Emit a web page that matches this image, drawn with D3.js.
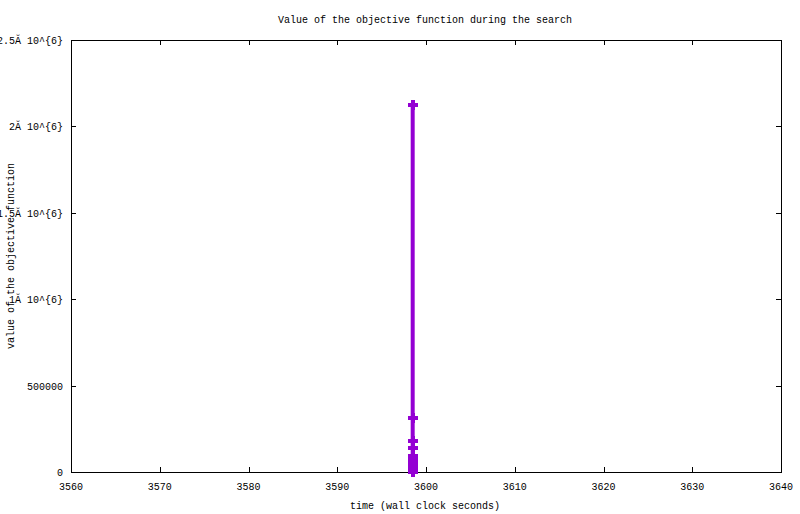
<!DOCTYPE html>
<html>
<head>
<meta charset="utf-8">
<script src="https://cdn.jsdelivr.net/npm/d3@7"></script>
<style>
  html, body { margin: 0; padding: 0; background: #fff; }
  svg { display: block; }
  text { font-family: "Liberation Mono", "DejaVu Sans Mono", monospace; font-size: 10px; fill: #000; }
</style>
</head>
<body>
<svg id="chart" width="800" height="514"></svg>
<script>
// ---- data ----
const times  = [3598.5, 3598.5, 3598.5, 3598.5, 3598.5, 3598.5, 3598.5, 3598.5, 3598.5, 3598.5, 3598.5, 3598.5];
const values = [2124000, 314000, 179000, 141000, 92000, 75000, 60000, 45000, 32000, 20000, 9000, 0];
const xTicks = [3560, 3570, 3580, 3590, 3600, 3610, 3620, 3630, 3640];
const yTicks = [0, 500000, 1000000, 1500000, 2000000, 2500000];
const yTickLabels = ["0", "500000", "1Ă 10^{6}", "1.5Ă 10^{6}", "2Ă 10^{6}", "2.5Ă 10^{6}"];
const titleText = "Value of the objective function during the search";
const xLabel = "time (wall clock seconds)";
const yLabel = "value of the objective function";

const svg = d3.select("#chart");
const L = 71, R = 781, T = 40, B = 472;
const x = d3.scaleLinear().domain([3560, 3640]).range([L, R]);
const y = d3.scaleLinear().domain([0, 2500000]).range([B, T]);
const color = "#9400D3";
const tickLen = 5;

// border
svg.append("rect")
  .attr("x", L + 0.5).attr("y", T + 0.5)
  .attr("width", R - L).attr("height", B - T)
  .attr("fill", "none").attr("stroke", "#000").attr("stroke-width", 1)
  .attr("shape-rendering", "crispEdges");

// ticks (inward, mirrored)
const g = svg.append("g").attr("shape-rendering", "crispEdges").attr("stroke", "#000");
xTicks.forEach(t => {
  const px = Math.round(x(t)) + 0.5;
  g.append("line").attr("x1", px).attr("x2", px).attr("y1", B).attr("y2", B - tickLen);
  g.append("line").attr("x1", px).attr("x2", px).attr("y1", T).attr("y2", T + tickLen);
});
yTicks.forEach(t => {
  const py = Math.round(y(t)) + 0.5;
  g.append("line").attr("x1", L).attr("x2", L + tickLen).attr("y1", py).attr("y2", py);
  g.append("line").attr("x1", R).attr("x2", R - tickLen).attr("y1", py).attr("y2", py);
});

// tick labels
xTicks.forEach(t => {
  svg.append("text").attr("x", x(t)).attr("y", B + 18)
    .attr("text-anchor", "middle").text(t);
});
yTicks.forEach((t, i) => {
  svg.append("text").attr("x", L - 8).attr("y", y(t) + 4)
    .attr("text-anchor", "end").text(yTickLabels[i]);
});

// titles
svg.append("text").attr("x", 425).attr("y", 23).attr("text-anchor", "middle").text(titleText);
svg.append("text").attr("x", 425).attr("y", 509).attr("text-anchor", "middle").text(xLabel);
svg.append("text").attr("transform", "translate(14,256) rotate(-90)")
  .attr("text-anchor", "middle").text(yLabel);

// data line
const pts = times.map((t, i) => [t, values[i]]);
svg.append("path")
  .attr("d", d3.line().x(d => x(d[0])).y(d => y(d[1]))(pts))
  .attr("fill", "none").attr("stroke", color).attr("stroke-width", 4);

// plus markers
const arm = 5, th = 4;
const mg = svg.append("g").attr("fill", color).attr("shape-rendering", "crispEdges");
pts.forEach(d => {
  const cx = x(d[0]), cy = y(d[1]);
  mg.append("rect").attr("x", cx - arm).attr("y", cy - th / 2).attr("width", 2 * arm).attr("height", th);
  mg.append("rect").attr("x", cx - th / 2).attr("y", cy - arm).attr("width", th).attr("height", 2 * arm);
});
</script>
</body>
</html>
